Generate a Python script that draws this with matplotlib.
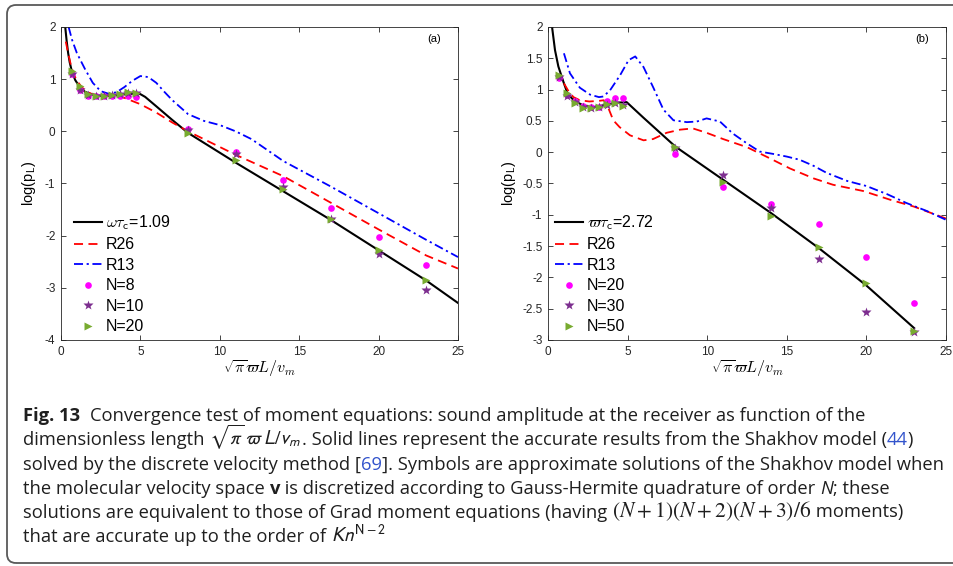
import matplotlib
matplotlib.use("Agg")
import matplotlib.pyplot as plt
from matplotlib.patches import FancyBboxPatch
from matplotlib.transforms import IdentityTransform

plt.rcParams["font.family"] = ["Liberation Sans", "DejaVu Sans"]
plt.rcParams["axes.unicode_minus"] = False
plt.rcParams["mathtext.fontset"] = "cm"

# ---- data ----
# panel (a)
xa_black = [0.25, 0.35, 0.45, 0.55, 0.7, 0.9, 1.2, 1.5, 2.0, 2.5, 3.0, 3.5, 4.0, 4.5, 4.9,
            5.3, 6.0, 7.0, 8.0, 11.0, 14.0, 17.0, 20.0, 23.0, 25.0]
ya_black = [2.05, 1.75, 1.5, 1.32, 1.13, 0.98, 0.84, 0.76, 0.7, 0.68, 0.68, 0.69, 0.71, 0.72, 0.73,
            0.66, 0.48, 0.22, -0.03, -0.6, -1.15, -1.7, -2.28, -2.86, -3.29]
xa_r26 = [0.3, 0.45, 0.6, 0.8, 1.0, 1.3, 1.6, 2.0, 2.5, 3.0, 3.5, 4.0, 5.0, 6.0, 7.0, 8.0,
          10.0, 11.0, 14.0, 17.0, 20.0, 23.0, 25.0]
ya_r26 = [1.72, 1.5, 1.3, 1.1, 0.97, 0.85, 0.76, 0.71, 0.69, 0.69, 0.68, 0.64, 0.52, 0.36, 0.17, 0.0,
          -0.3, -0.45, -0.86, -1.37, -1.88, -2.38, -2.63]
xa_r13 = [0.48, 0.7, 1.0, 1.5, 2.0, 2.5, 3.0, 3.5, 4.0, 4.5, 5.0, 5.5, 6.0, 6.5, 7.0, 8.0,
          9.0, 10.0, 11.0, 12.0, 14.0, 17.0, 20.0, 23.0, 25.0]
ya_r13 = [2.0, 1.75, 1.5, 1.2, 0.93, 0.77, 0.72, 0.75, 0.85, 0.97, 1.06, 1.04, 0.93, 0.76, 0.6, 0.33,
          0.2, 0.12, 0.0, -0.15, -0.57, -1.06, -1.57, -2.08, -2.41]

xs_pts = [0.7, 1.2, 1.7, 2.2, 2.7, 3.2, 3.7, 4.2, 4.7, 8, 11, 14, 17, 20, 23]
ya_n8 = [1.09, 0.79, 0.68, 0.67, 0.67, 0.68, 0.68, 0.68, 0.65, 0.05, -0.39, -0.93, -1.47, -2.02, -2.56]
ya_n10 = [1.1, 0.8, 0.7, 0.67, 0.67, 0.69, 0.71, 0.73, 0.74, 0.02, -0.44, -1.07, -1.69, -2.36, -3.04]
ya_n20 = [1.16, 0.86, 0.72, 0.67, 0.67, 0.69, 0.72, 0.76, 0.74, -0.04, -0.55, -1.11, -1.68, -2.27, -2.85]

# panel (b)
xb_black = [0.23, 0.44, 0.65, 0.96, 1.21, 1.5, 1.8, 2.2, 2.85, 3.7, 4.3, 4.94,
            6.0, 7.0, 8.0, 11.0, 14.0, 17.0, 20.0, 23.0]
yb_black = [2.05, 1.63, 1.37, 1.13, 0.95, 0.86, 0.8, 0.75, 0.72, 0.76, 0.79, 0.8,
            0.55, 0.32, 0.09, -0.44, -0.97, -1.53, -2.13, -2.81]
xb_r26 = [1.0, 1.3, 1.6, 2.0, 2.6, 3.2, 3.5, 3.8, 4.1, 4.5, 5.15, 6.0, 6.6, 7.45, 8.3, 9.1,
          9.96, 11.0, 12.5, 13.95, 15.2, 16.7, 17.9, 19.8, 21.5, 23.0, 25.0]
yb_r26 = [1.1, 0.97, 0.88, 0.83, 0.81, 0.82, 0.83, 0.7, 0.51, 0.4, 0.27, 0.19, 0.21, 0.31, 0.36, 0.38,
          0.31, 0.21, 0.08, -0.1, -0.26, -0.42, -0.52, -0.62, -0.76, -0.87, -1.06]
xb_r13 = [1.0, 1.38, 2.0, 2.64, 3.2, 3.48, 3.9, 4.53, 5.06, 5.48, 6.0, 6.62, 7.25, 7.88, 8.72,
          9.35, 9.96, 10.8, 11.6, 12.5, 13.3, 14.2, 15.0, 15.8, 16.7, 17.5, 18.8, 20.0, 21.3,
          22.5, 23.8, 25.0]
yb_r13 = [1.58, 1.26, 1.03, 0.92, 0.88, 0.89, 0.99, 1.23, 1.47, 1.53, 1.36, 1.03, 0.68, 0.51, 0.48,
          0.49, 0.54, 0.49, 0.3, 0.14, 0.01, -0.03, -0.07, -0.12, -0.22, -0.33, -0.46, -0.54, -0.67,
          -0.81, -0.94, -1.08]
yb_n20 = [1.18, 0.92, 0.81, 0.74, 0.72, 0.73, 0.81, 0.87, 0.87, -0.03, -0.56, -0.83, -1.15, -1.67, -2.41]
yb_n30 = [1.2, 0.9, 0.8, 0.73, 0.71, 0.72, 0.76, 0.78, 0.76, 0.06, -0.36, -0.89, -1.71, -2.55, -2.87]
yb_n50 = [1.24, 0.94, 0.78, 0.71, 0.71, 0.73, 0.77, 0.78, 0.74, 0.09, -0.47, -1.02, -1.51, -2.09, -2.85]

W, H = 954, 566
fig = plt.figure(figsize=(W / 100, H / 100), dpi=100)

# rounded frame around the figure + caption
fig.patches.append(FancyBboxPatch((7, 3), 975, 558, boxstyle="round,pad=0,rounding_size=9",
                                  transform=IdentityTransform(), facecolor="none",
                                  edgecolor=(0.35, 0.35, 0.35), linewidth=1.3))

magenta = (1, 0, 1)
purple = (0.49, 0.18, 0.56)
green = (0.47, 0.67, 0.19)
axcol = (0.15, 0.15, 0.15)


def panel(rect, xb, yb, xr26, yr26, xr13, yr13, m1, m2, m3, lab, names, ylim, yticks, tag,
          lx, legx):
    ax = fig.add_axes(rect)
    ax.plot(xb, yb, color="k", lw=1.5, label=lab)
    ax.plot(xr26, yr26, color="r", lw=1.3, ls=(0, (5, 3)), label="R26")
    ax.plot(xr13, yr13, color="b", lw=1.3, ls=(0, (5, 2, 1.2, 2)), label="R13")
    ax.plot(xs_pts, m1, "o", color=magenta, ms=4.8, mec="none", label=names[0])
    ax.plot(xs_pts, m2, "*", color=purple, ms=7.5, mec="none", label=names[1])
    ax.plot(xs_pts, m3, ">", color=green, ms=6, mec="none", label=names[2])
    ax.set_xlim(0, 25)
    ax.set_ylim(*ylim)
    ax.set_xticks([0, 5, 10, 15, 20, 25])
    ax.set_yticks(yticks)
    ax.set_yticklabels([("%g" % t) for t in yticks])
    ax.tick_params(direction="in", top=True, right=True, length=3.5, width=0.6,
                   labelsize=8.5, colors=axcol, pad=4)
    for sp in ax.spines.values():
        sp.set_linewidth(0.6)
        sp.set_color(axcol)
    ax.set_xlabel(r"$\sqrt{\pi}\varpi L/v_m$", fontsize=11.5, labelpad=0)
    ax.set_ylabel(r"log(p$_{\mathsf{L}}$)", fontsize=10.5, labelpad=lx)
    ax.text(0.94, 0.963, tag, transform=ax.transAxes, fontsize=8, ha="center", va="center")
    ax.legend(loc="upper left", bbox_to_anchor=(legx, 0.405), frameon=False, fontsize=11.5,
              handlelength=1.75, handletextpad=0.25, labelspacing=0.34, borderpad=0,
              numpoints=1, borderaxespad=0)
    return ax


axa = panel([61 / W, (H - 340) / H, 397 / W, 313 / H], xa_black, ya_black, xa_r26, ya_r26,
            xa_r13, ya_r13, ya_n8, ya_n10, ya_n20, r"$\omega\tau_{\mathsf{c}}$=1.09",
            ["N=8", "N=10", "N=20"], (-4, 2), [-4, -3, -2, -1, 0, 1, 2], "(a)", 5, 0.032)
axb = panel([548 / W, (H - 340) / H, 398 / W, 313 / H], xb_black, yb_black, xb_r26, yb_r26,
            xb_r13, yb_r13, yb_n20, yb_n30, yb_n50, r"$\varpi\tau_{\mathsf{c}}$=2.72",
            ["N=20", "N=30", "N=50"], (-3, 2), [-3, -2.5, -2, -1.5, -1, -0.5, 0, 0.5, 1, 1.5, 2],
            "(b)", 3, 0.018)

# ---- caption ----
cap_fs = 13.2
txtcol = (0.12, 0.12, 0.12)
linkcol = (0.2, 0.33, 0.8)
base = dict(family=["Open Sans", "DejaVu Sans"], fontsize=cap_fs, color=txtcol)
bold = dict(base, weight="bold")
ital = dict(base, style="italic")
blue = dict(base, color=linkcol)
mth = dict(base, math_fontfamily="stixsans", fontsize=14)
mth2 = dict(base, math_fontfamily="stix", fontsize=15.5)
mth3 = dict(base, math_fontfamily="stixsans", fontsize=14)

cap_lines = [
    [("Fig. 13  ", bold),
     ("Convergence test of moment equations: sound amplitude at the receiver as function of the", base)],
    [("dimensionless length ", base), (r"$\sqrt{\pi}\,\varpi\, L/v_m$", mth),
     (". Solid lines represent the accurate results from the Shakhov model (", base),
     ("44", blue), (")", base)],
    [("solved by the discrete velocity method [", base), ("69", blue),
     ("]. Symbols are approximate solutions of the Shakhov model when", base)],
    [("the molecular velocity space ", base), ("v", bold),
     (" is discretized according to Gauss-Hermite quadrature of order ", base), ("N", ital),
     ("; these", base)],
    [("solutions are equivalent to those of Grad moment equations (having ", base),
     (r"$(N+1)(N+2)(N+3)/6$", mth2), (" moments)", base)],
    [("that are accurate up to the order of ", base), (r"$Kn^{\mathrm{N-2}}$", mth3)],
]
cap_base = [421, 445, 469.5, 493.5, 517.5, 542]

renderer = fig.canvas.get_renderer()


def seg_width(s, props):
    if "$" in s:
        t = fig.text(0, 0, s, transform=IdentityTransform(), **props)
        w = t.get_window_extent(renderer).width
        t.remove()
        return w
    t1 = fig.text(0, 0, "|" + s + "|", transform=IdentityTransform(), **props)
    t2 = fig.text(0, 0, "||", transform=IdentityTransform(), **props)
    w = t1.get_window_extent(renderer).width - t2.get_window_extent(renderer).width
    t1.remove()
    t2.remove()
    return w


for segs, yb in zip(cap_lines, cap_base):
    x = 23
    for s, props in segs:
        fig.text(x, H - yb, s, transform=IdentityTransform(), ha="left", va="baseline", **props)
        x += seg_width(s, props)

fig.savefig("out.png", dpi=100)
